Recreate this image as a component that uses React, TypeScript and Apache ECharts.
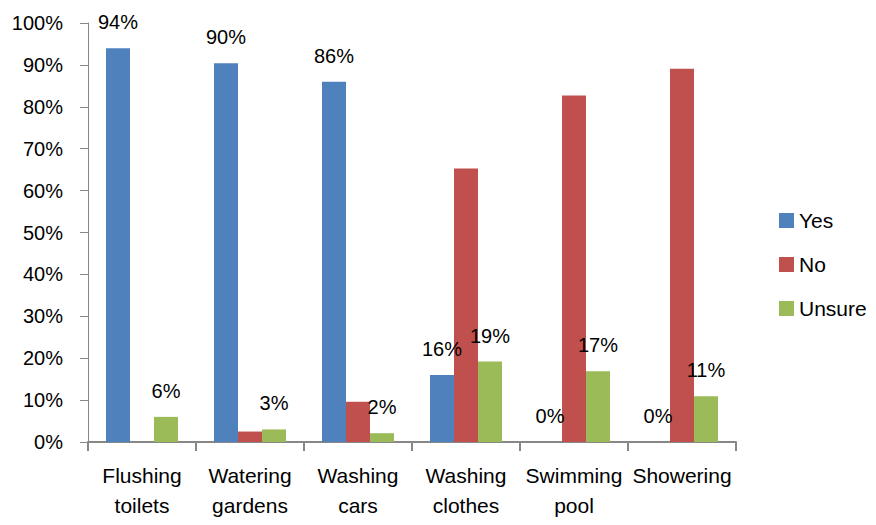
import React, { useEffect, useRef } from "react";
import * as echarts from "echarts";

const categories = ["Flushing\ntoilets", "Watering\ngardens", "Washing\ncars", "Washing\nclothes", "Swimming\npool", "Showering"];
const yesValues = [94, 90.4, 86, 16, 0, 0];
const noValues = [0, 2.5, 9.6, 65.3, 82.7, 89.1];
const unsureValues = [6, 3, 2.1, 19.2, 16.9, 10.9];
const yTicks = [0, 10, 20, 30, 40, 50, 60, 70, 80, 90, 100];

const FONT = "'Liberation Sans', Arial, sans-serif";

export default function App() {
  const ref = useRef<HTMLDivElement>(null);
  useEffect(() => {
    if (!ref.current) return;
    const chart = echarts.init(ref.current, undefined, { renderer: "svg" });
    const label = {
      show: true,
      position: "top" as const,
      distance: 16,
      color: "#000",
      fontFamily: FONT,
      fontSize: 20,
      formatter: (p: any) => Math.round(p.value) + "%",
    };
    chart.setOption({
      animation: false,
      backgroundColor: "#fff",
      grid: { left: 88, right: 140, top: 23, bottom: 83, containLabel: false },
      legend: {
        orient: "vertical",
        left: 774,
        top: 205,
        itemWidth: 15,
        itemHeight: 15,
        itemGap: 23,
        icon: "rect",
        textStyle: { fontFamily: FONT, fontSize: 21, color: "#000" },
        data: ["Yes", "No", "Unsure"],
      },
      xAxis: {
        type: "category",
        data: categories,
        axisLine: { show: true, lineStyle: { color: "#878787", width: 2 } },
        axisTick: { show: true, alignWithLabel: false, length: 9, lineStyle: { color: "#878787", width: 2 } },
        axisLabel: {
          interval: 0,
          margin: 18,
          fontFamily: FONT,
          fontSize: 21,
          lineHeight: 30,
          color: "#000",
        },
        splitLine: { show: false },
      },
      yAxis: {
        type: "value",
        min: 0,
        max: 100,
        interval: 10,
        axisLine: { show: true, lineStyle: { color: "#878787", width: 1 } },
        axisTick: { show: true, inside: false, length: 8, lineStyle: { color: "#878787" } },
        axisLabel: {
          margin: 25,
          fontFamily: FONT,
          fontSize: 20,
          color: "#000",
          formatter: (v: number) => (yTicks.includes(v) ? v + "%" : ""),
        },
        splitLine: { show: false },
      },
      series: [
        { name: "Yes", type: "bar", data: yesValues, barWidth: 24, barGap: "0%", itemStyle: { color: "#4F81BD" }, label },
        { name: "No", type: "bar", data: noValues, barWidth: 24, barGap: "0%", itemStyle: { color: "#C0504D" } },
        { name: "Unsure", type: "bar", data: unsureValues, barWidth: 24, barGap: "0%", itemStyle: { color: "#9BBB59" }, label },
      ],
    });
    return () => chart.dispose();
  }, []);
  return <div ref={ref} style={{ width: 876, height: 525, position: "absolute", left: 0, top: 0 }} />;
}
